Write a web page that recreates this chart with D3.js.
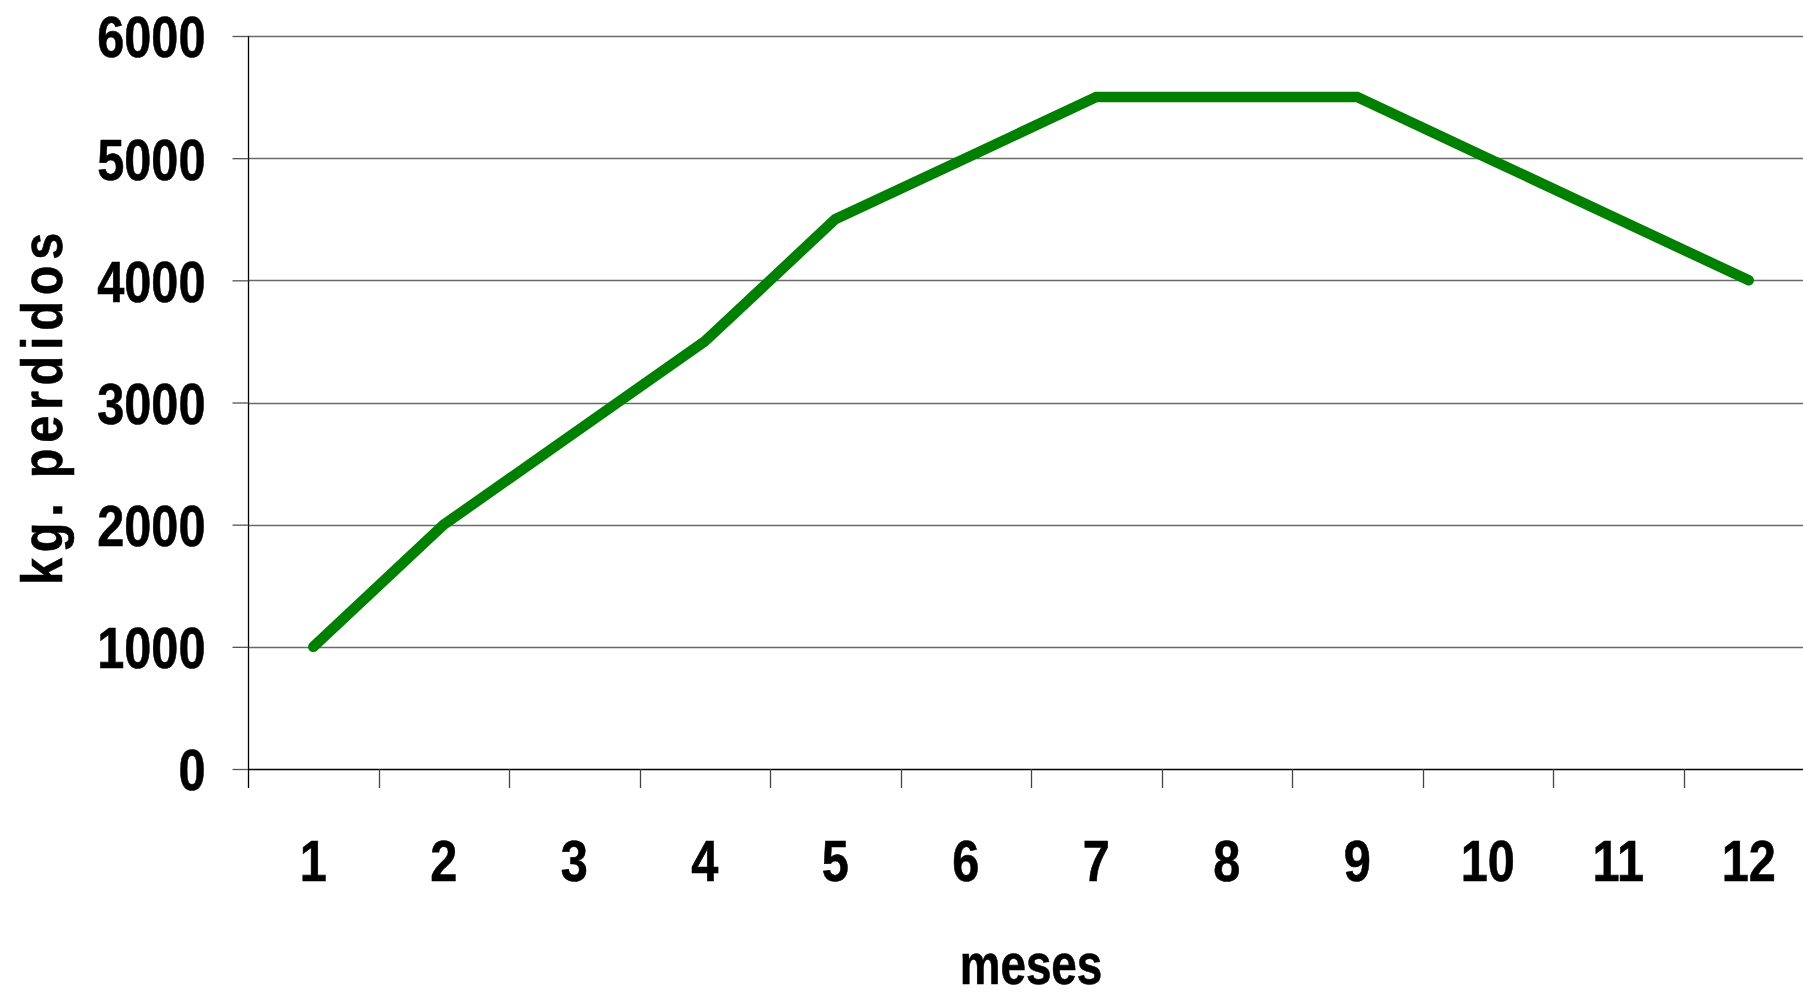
<!DOCTYPE html>
<html>
<head>
<meta charset="utf-8">
<script src="https://cdn.jsdelivr.net/npm/d3@7"></script>
<style>
  html, body { margin: 0; padding: 0; background: #fff; }
  svg { display: block; }
  text { font-family: "Liberation Sans Narrow", "Arial Narrow", "Liberation Sans", Arial, sans-serif; font-weight: bold; fill: #000; stroke: #000; stroke-width: 0.6px; }
</style>
</head>
<body>
<div id="chart"></div>
<script>
// Monthly weight lost (kg)
const months = ["1", "2", "3", "4", "5", "6", "7", "8", "9", "10", "11", "12"];
const kgLost = [1000, 2000, 2750, 3500, 4500, 5000, 5500, 5500, 5500, 5000, 4500, 4000];
const yTicks = [0, 1000, 2000, 3000, 4000, 5000, 6000];
const xTitle = "meses";
const yTitle = "kg. perdidos";

const W = 1803, H = 995;
const plotLeft = 248, plotTop = 36, plotBottom = 769;
const band = 130.5;
const plotRight = plotLeft + band * months.length;
const FS = 58;        // label font size
const NARROW = 0.84;  // horizontal squeeze for a condensed look

const svg = d3.select("#chart").append("svg")
  .attr("width", W).attr("height", H);

const x = d3.scaleBand().domain(months).range([plotLeft, plotRight]).padding(0);
const y = d3.scaleLinear().domain([0, 6000]).range([plotBottom, plotTop]);

// horizontal gridlines
svg.append("g").selectAll("line")
  .data(yTicks.filter(d => d > 0))
  .join("line")
  .attr("x1", plotLeft).attr("x2", plotRight)
  .attr("y1", d => Math.round(y(d)) + 0.5).attr("y2", d => Math.round(y(d)) + 0.5)
  .attr("stroke", "#6a6a6a").attr("stroke-width", 1.3);

// y axis
const yAxis = svg.append("g")
  .attr("transform", `translate(${plotLeft + 0.5},0)`)
  .call(d3.axisLeft(y).tickValues(yTicks).tickSize(16).tickPadding(27).tickFormat(d3.format("d")));
yAxis.select(".domain").attr("stroke", "#000").attr("stroke-width", 1.3)
  .attr("d", `M0,${plotTop}V${plotBottom + 19}`);
yAxis.selectAll(".tick line").attr("stroke", "#555").attr("stroke-width", 1.3);
yAxis.selectAll(".tick text")
  .attr("font-size", FS)
  .attr("x", 0)
  .attr("dy", "0.36em")
  .attr("transform", `translate(-43,0) scale(${NARROW},1)`);

// x axis baseline, category boundary ticks and labels
const xg = svg.append("g");
xg.append("line")
  .attr("x1", plotLeft).attr("x2", plotRight)
  .attr("y1", Math.round(plotBottom) + 0.5).attr("y2", Math.round(plotBottom) + 0.5)
  .attr("stroke", "#000").attr("stroke-width", 1.3);
xg.selectAll("line.tk")
  .data(months.slice(1))
  .join("line").attr("class", "tk")
  .attr("x1", d => Math.round(x(d)) + 0.5).attr("x2", d => Math.round(x(d)) + 0.5)
  .attr("y1", plotBottom).attr("y2", plotBottom + 19)
  .attr("stroke", "#444").attr("stroke-width", 1.3);
xg.selectAll("text")
  .data(months)
  .join("text")
  .attr("transform", d => `translate(${x(d) + x.bandwidth() / 2},881) scale(${NARROW},1)`)
  .attr("text-anchor", "middle")
  .attr("font-size", FS)
  .text(d => d);

// series line
const line = d3.line()
  .x((d, i) => x(months[i]) + x.bandwidth() / 2)
  .y(d => y(d));
svg.append("path")
  .datum(kgLost)
  .attr("d", line)
  .attr("fill", "none")
  .attr("stroke", "#008000")
  .attr("stroke-width", 10.5)
  .attr("stroke-linecap", "round")
  .attr("stroke-linejoin", "miter");

// axis titles
svg.append("text")
  .attr("transform", `translate(${(plotLeft + plotRight) / 2},984) scale(0.79,1)`)
  .attr("text-anchor", "middle")
  .attr("font-size", FS)
  .text(xTitle);

svg.append("text")
  .attr("transform", `translate(62,406) rotate(-90) scale(${NARROW},1)`)
  .attr("text-anchor", "middle")
  .attr("font-size", FS)
  .attr("letter-spacing", 6.8)
  .text(yTitle);
</script>
</body>
</html>
